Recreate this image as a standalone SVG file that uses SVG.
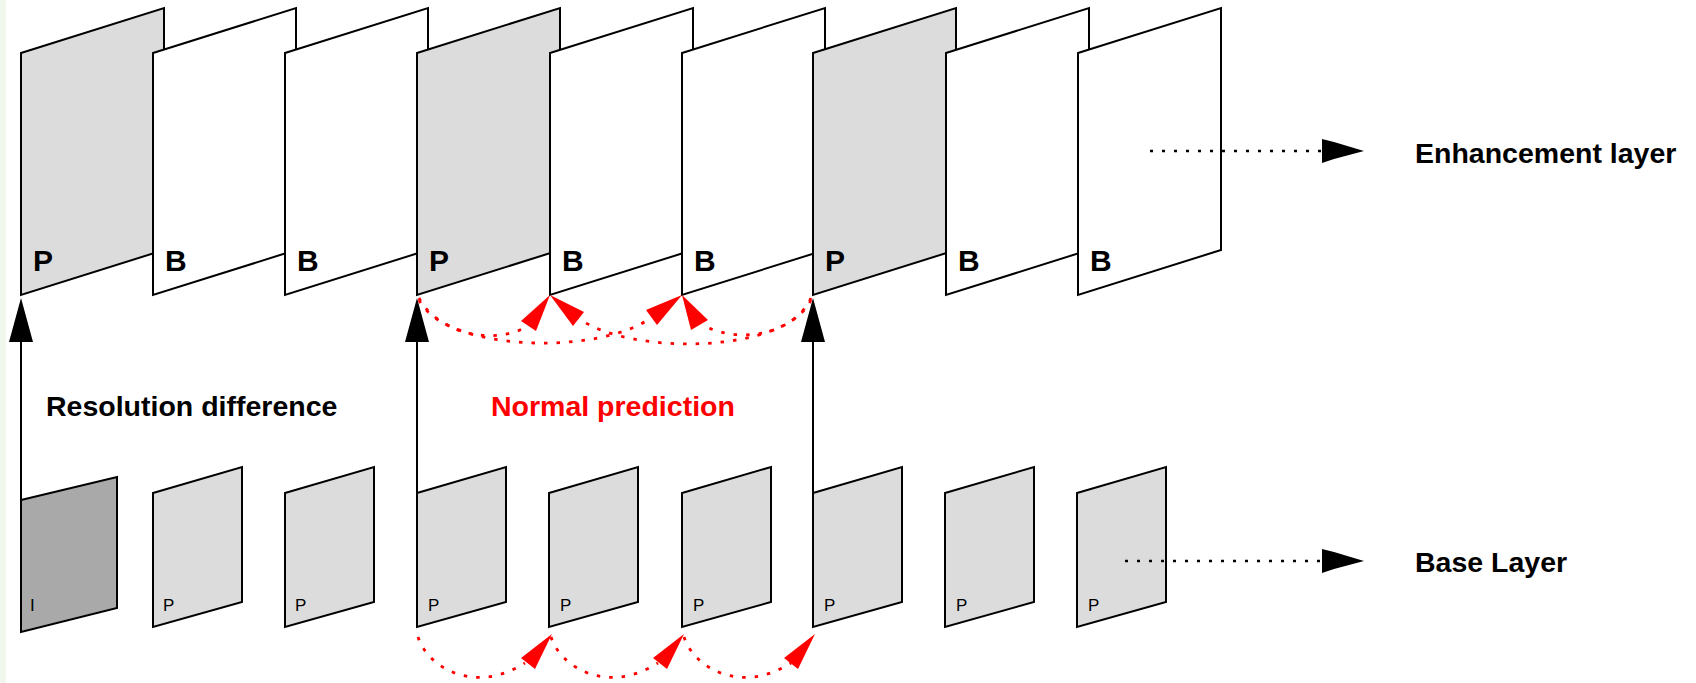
<svg xmlns="http://www.w3.org/2000/svg" width="1696" height="683" viewBox="0 0 1696 683">
<style>
.fr{stroke:#000;stroke-width:2;stroke-linejoin:miter}
.pe{fill:#dcdcdc}
.be{fill:#ffffff}
.ib{fill:#a9a9a9}
.big{font-family:"Liberation Sans",Arial,sans-serif;font-weight:bold;font-size:30px;fill:#000}
.sm{font-family:"Liberation Sans",Arial,sans-serif;font-size:17px;fill:#000}
.lbl{font-family:"Liberation Sans",Arial,sans-serif;font-weight:bold;font-size:28.5px}
.vl{stroke:#000;stroke-width:2;fill:none}
.dl{stroke:#000;stroke-width:2.5;fill:none;stroke-dasharray:3 9}
.rc{stroke:#ff0000;stroke-width:2.8;fill:none;stroke-dasharray:3.5 9}
.rh{fill:#ff0000}
.bh{fill:#000}
</style>
<rect width="1696" height="683" fill="#ffffff"/>
<rect x="0" y="0" width="6" height="683" fill="#f1f7ec"/>
<g id="enh1"><polygon class="fr pe" points="21,53 164,8 164,250 21,295"/><text class="big" x="33" y="271">P</text></g>
<g id="enh2"><polygon class="fr be" points="153,53 296,8 296,250 153,295"/><text class="big" x="165" y="271">B</text></g>
<g id="enh3"><polygon class="fr be" points="285,53 428,8 428,250 285,295"/><text class="big" x="297" y="271">B</text></g>
<g id="enh4"><polygon class="fr pe" points="417,53 560,8 560,250 417,295"/><text class="big" x="429" y="271">P</text></g>
<g id="enh5"><polygon class="fr be" points="550,53 693,8 693,250 550,295"/><text class="big" x="562" y="271">B</text></g>
<g id="enh6"><polygon class="fr be" points="682,53 825,8 825,250 682,295"/><text class="big" x="694" y="271">B</text></g>
<g id="enh7"><polygon class="fr pe" points="813,53 956,8 956,250 813,295"/><text class="big" x="825" y="271">P</text></g>
<g id="enh8"><polygon class="fr be" points="946,53 1089,8 1089,250 946,295"/><text class="big" x="958" y="271">B</text></g>
<g id="enh9"><polygon class="fr be" points="1078,53 1221,8 1221,250 1078,295"/><text class="big" x="1090" y="271">B</text></g>

<g id="base1"><polygon class="fr ib" points="21,500 117,477 117,608 21,632"/><text class="sm" x="30" y="611">I</text></g>
<g id="base2"><polygon class="fr pe" points="153,493 242,467 242,602 153,627"/><text class="sm" x="163" y="611">P</text></g>
<g id="base3"><polygon class="fr pe" points="285,493 374,467 374,602 285,627"/><text class="sm" x="295" y="611">P</text></g>
<g id="base4"><polygon class="fr pe" points="417,493 506,467 506,602 417,627"/><text class="sm" x="428" y="611">P</text></g>
<g id="base5"><polygon class="fr pe" points="549,493 638,467 638,602 549,627"/><text class="sm" x="560" y="611">P</text></g>
<g id="base6"><polygon class="fr pe" points="682,493 771,467 771,602 682,627"/><text class="sm" x="693" y="611">P</text></g>
<g id="base7"><polygon class="fr pe" points="813,493 902,467 902,602 813,627"/><text class="sm" x="824" y="611">P</text></g>
<g id="base8"><polygon class="fr pe" points="945,493 1034,467 1034,602 945,627"/><text class="sm" x="956" y="611">P</text></g>
<g id="base9"><polygon class="fr pe" points="1077,493 1166,467 1166,602 1077,627"/><text class="sm" x="1088" y="611">P</text></g>

<g id="labels">
<text class="lbl" x="46" y="416" fill="#000">Resolution difference</text>
<text class="lbl" x="491" y="416" fill="#ff0000">Normal prediction</text>
<text class="lbl" x="1415" y="163" fill="#000">Enhancement layer</text>
<text class="lbl" x="1415" y="572" fill="#000">Base Layer</text>
</g>

<g id="connectors">
<line class="vl" x1="21" y1="340" x2="21" y2="500"/>
<polygon class="bh" points="21,298 9,342 33,342"/>
<line class="vl" x1="417" y1="340" x2="417" y2="493"/>
<polygon class="bh" points="417,298 405,342 429,342"/>
<line class="vl" x1="813" y1="340" x2="813" y2="493"/>
<polygon class="bh" points="813,298 801,342 825,342"/>

<line class="dl" x1="1150" y1="151" x2="1323" y2="151"/>
<polygon class="bh" points="1322,139 1334,142 1364,151 1334,159 1322,163"/>
<line class="dl" x1="1125" y1="561" x2="1323" y2="561"/>
<polygon class="bh" points="1322,549 1334,552 1364,561 1334,569 1322,573"/>

<path class="rc" d="M419,298 C435,330 490,348 528,326"/>
<path class="rc" d="M419,300 C445,352 600,356 652,317"/>
<path class="rc" d="M811,298 C795,332 745,346 702,325"/>
<path class="rc" d="M811,300 C785,354 630,356 578,318"/>
<polygon class="rh" points="550,295 521,321 536,331"/>
<polygon class="rh" points="550,295 584,312 573,326"/>
<polygon class="rh" points="682,295 646,310 657,325"/>
<polygon class="rh" points="682,295 708,320 691,330"/>

<path class="rc" d="M418,637 C428,668 475,695 525,663"/>
<path class="rc" d="M551,637 C561,668 608,695 658,663"/>
<path class="rc" d="M684,637 C694,668 741,695 791,663"/>
<polygon class="rh" points="552,634 521,658 535,669"/>
<polygon class="rh" points="684,634 653,658 667,669"/>
<polygon class="rh" points="815,634 784,658 798,669"/>
</g>
</svg>
